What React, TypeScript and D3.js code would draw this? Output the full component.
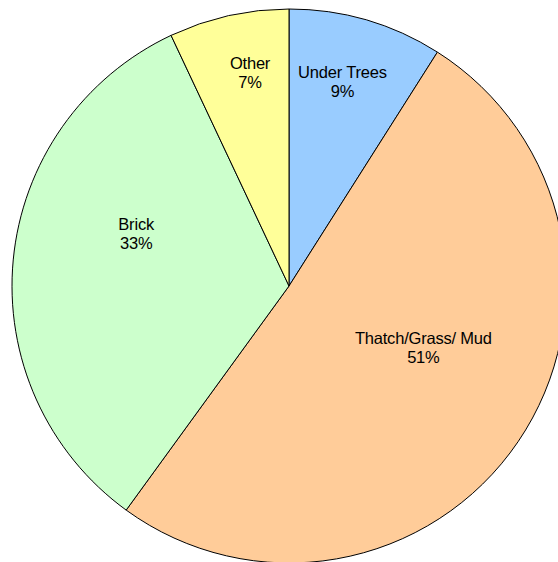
import React from "react";
import * as d3 from "d3";

const categories = ["Under Trees", "Thatch/Grass/ Mud", "Brick", "Other"];
const values = [9, 51, 33, 7];
const colors = ["#99CCFF", "#FFCC99", "#CCFFCC", "#FFFF99"];
// label placement: [radius fraction, angle offset in degrees from slice mid-angle]
const labelRadius = [0.765, 0.533, 0.584, 0.787];
const labelAngleShift = [-1.6, -9.7, 13.7, 2.3];

export default function App() {
  const W = 558, H = 562;
  const cx = 289, cy = 286, r = 277;
  const pie = d3.pie<number>().sort(null).value((d) => d)(values);
  const arc = d3.arc<d3.PieArcDatum<number>>().innerRadius(0).outerRadius(r);
  return (
    <svg width={W} height={H} style={{ position: "absolute", left: 0, top: 0 }}>
      <g transform={`translate(${cx},${cy})`}>
        {pie.map((p, i) => (
          <path key={i} d={arc(p) || ""} fill={colors[i]} stroke="#000" strokeWidth={1} />
        ))}
        {pie.map((p, i) => {
          const mid = (p.startAngle + p.endAngle) / 2 + (labelAngleShift[i] * Math.PI) / 180;
          const lr = r * labelRadius[i];
          const x = Math.sin(mid) * lr;
          const y = -Math.cos(mid) * lr;
          return (
            <text key={i} x={x} y={y} textAnchor="middle" fontFamily="Liberation Sans, Arial, sans-serif" fontSize={16.5} fill="#000" letterSpacing={-0.2}>
              <tspan x={x} dy={-3}>{categories[i]}</tspan>
              <tspan x={x} dy={19}>{Math.round(values[i])}%</tspan>
            </text>
          );
        })}
      </g>
    </svg>
  );
}
